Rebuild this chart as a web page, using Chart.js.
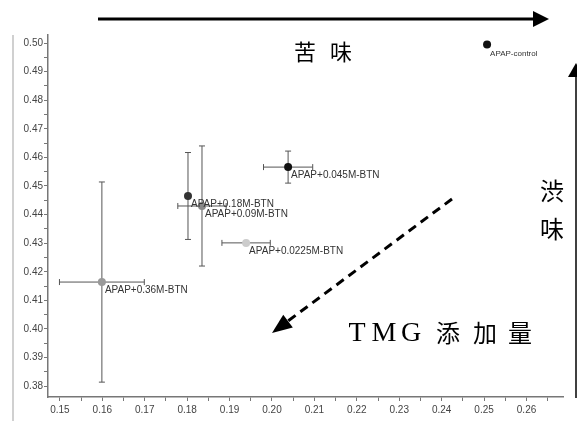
<!DOCTYPE html>
<html>
<head>
<meta charset="utf-8">
<script src="https://cdn.jsdelivr.net/npm/chart.js@4.4.0/dist/chart.umd.min.js"></script>
<style>
    html, body { margin: 0; padding: 0; background: #fff; }
    #wrap { width: 577px; height: 421px; position: relative; }
</style>
</head>
<body>
<div id="wrap"><canvas id="chart" width="577" height="421"></canvas></div>
<script>
// Data
const sampleNames = ['APAP-control', 'APAP+0.045M-BTN', 'APAP+0.18M-BTN', 'APAP+0.09M-BTN', 'APAP+0.0225M-BTN', 'APAP+0.36M-BTN'];
const xValues = [0.2507, 0.2038, 0.1802, 0.1835, 0.1939, 0.1599];
const yValues = [0.4995, 0.4566, 0.4465, 0.4430, 0.4301, 0.4164];
const xErrors = [0, 0.0058, 0, 0.0057, 0.0057, 0.0100];
const yErrors = [0, 0.0056, 0.0152, 0.0210, 0, 0.0350];
const pointColors = ['#111', '#111', '#333', '#888', '#ccc', '#999'];

const xTickLabels = [0.15, 0.16, 0.17, 0.18, 0.19, 0.20, 0.21, 0.22, 0.23, 0.24, 0.25, 0.26];
const yTickLabels = [0.38, 0.39, 0.40, 0.41, 0.42, 0.43, 0.44, 0.45, 0.46, 0.47, 0.48, 0.49, 0.50];

// major + minor (half step) ticks
function withMinor(labels, extraEnd) {
    const out = [];
    labels.forEach((v, i) => {
        out.push(v);
        if (i < labels.length - 1 || extraEnd) out.push(+(v + 0.005).toFixed(3));
    });
    return out;
}
const xTicks = withMinor(xTickLabels, true);
const yTicks = withMinor(yTickLabels, false);

function isLabel(v, labels) {
    return labels.some(l => Math.abs(l - v) < 1e-6);
}

// error bars, point labels
const errorBarPlugin = {
    id: 'errorBars',
    beforeDatasetsDraw(chart) {
        const { ctx, scales: { x, y } } = chart;
        ctx.save();
        ctx.strokeStyle = '#555';
        ctx.lineWidth = 1;
        const cap = 3;
        xValues.forEach((xv, i) => {
            const px = x.getPixelForValue(xv);
            const py = y.getPixelForValue(yValues[i]);
            if (xErrors[i] > 0) {
                const l = x.getPixelForValue(xv - xErrors[i]);
                const r = x.getPixelForValue(xv + xErrors[i]);
                ctx.beginPath();
                ctx.moveTo(l, py); ctx.lineTo(r, py);
                ctx.moveTo(l, py - cap); ctx.lineTo(l, py + cap);
                ctx.moveTo(r, py - cap); ctx.lineTo(r, py + cap);
                ctx.stroke();
            }
            if (yErrors[i] > 0) {
                const t = y.getPixelForValue(yValues[i] + yErrors[i]);
                const b = y.getPixelForValue(yValues[i] - yErrors[i]);
                ctx.beginPath();
                ctx.moveTo(px, t); ctx.lineTo(px, b);
                ctx.moveTo(px - cap, t); ctx.lineTo(px + cap, t);
                ctx.moveTo(px - cap, b); ctx.lineTo(px + cap, b);
                ctx.stroke();
            }
        });
        ctx.restore();
    },
    afterDatasetsDraw(chart) {
        const { ctx, scales: { x, y } } = chart;
        ctx.save();
        ctx.fillStyle = '#333';
        ctx.textBaseline = 'middle';
        sampleNames.forEach((name, i) => {
            const px = x.getPixelForValue(xValues[i]);
            const py = y.getPixelForValue(yValues[i]);
            ctx.font = (i === 0 ? '8px' : '10px') + ' "Liberation Sans", Arial, sans-serif';
            ctx.fillText(name, px + 3, py + (i === 0 ? 9 : 8));
        });
        ctx.restore();
    }
};

// arrows and the Japanese annotations
function arrowHead(ctx, tx, ty, angle, len, half) {
    ctx.beginPath();
    ctx.moveTo(tx, ty);
    ctx.lineTo(tx - len * Math.cos(angle) + half * Math.sin(angle), ty - len * Math.sin(angle) - half * Math.cos(angle));
    ctx.lineTo(tx - len * Math.cos(angle) - half * Math.sin(angle), ty - len * Math.sin(angle) + half * Math.cos(angle));
    ctx.closePath();
    ctx.fill();
}

const annotationPlugin = {
    id: 'annotations',
    afterDraw(chart) {
        const ctx = chart.ctx;
        ctx.save();
        // frame line at the left
        ctx.strokeStyle = '#d0d0d0';
        ctx.lineWidth = 2;
        ctx.beginPath();
        ctx.moveTo(13, 35); ctx.lineTo(13, 421);
        ctx.stroke();

        ctx.fillStyle = '#000';
        ctx.strokeStyle = '#000';

        // top arrow (bitterness)
        ctx.lineWidth = 3;
        ctx.beginPath();
        ctx.moveTo(98, 19); ctx.lineTo(535, 19);
        ctx.stroke();
        arrowHead(ctx, 549, 19, 0, 16, 8);

        // right arrow (astringency)
        ctx.lineWidth = 1.5;
        ctx.beginPath();
        ctx.moveTo(576, 398); ctx.lineTo(576, 72);
        ctx.stroke();
        arrowHead(ctx, 576, 63, -Math.PI / 2, 14, 8);

        // dashed diagonal arrow (TMG)
        ctx.lineWidth = 3;
        ctx.setLineDash([9, 6]);
        ctx.beginPath();
        ctx.moveTo(452, 199); ctx.lineTo(288, 321);
        ctx.stroke();
        ctx.setLineDash([]);
        const ang = Math.atan2(333 - 199, 272 - 452);
        arrowHead(ctx, 272, 333, ang, 20, 8);

        // texts
        ctx.textAlign = 'center';
        ctx.textBaseline = 'middle';
        ctx.font = '22px "Noto Sans CJK JP", sans-serif';
        ctx.fillText('苦', 305, 52);
        ctx.fillText('味', 341, 52);
        ctx.font = '24px "Noto Sans CJK JP", sans-serif';
        ctx.fillText('渋', 552, 191);
        ctx.fillText('味', 552, 229);

        ctx.font = '28px "Liberation Serif", "DejaVu Serif", serif';
        ctx.fillText('T', 357, 334);
        ctx.fillText('M', 384, 334);
        ctx.fillText('G', 411, 334);
        ctx.font = '24px "Noto Sans CJK JP", sans-serif';
        ctx.fillText('添', 448, 333);
        ctx.fillText('加', 485, 333);
        ctx.fillText('量', 520, 333);
        ctx.restore();
    }
};

const tickFont = { family: '"Liberation Sans", Arial, sans-serif', size: 10 };

const chart = new Chart(document.getElementById('chart'), {
    type: 'scatter',
    data: {
        datasets: [{
            data: xValues.map((xv, i) => ({ x: xv, y: yValues[i] })),
            backgroundColor: pointColors,
            borderWidth: 0,
            pointRadius: 4
        }]
    },
    options: {
        responsive: false,
        animation: false,
        layout: { padding: { left: 0, top: 35, right: 14, bottom: 0 } },
        plugins: {
            legend: { display: false },
            tooltip: { enabled: false }
        },
        scales: {
            x: {
                type: 'linear',
                min: 0.1472,
                max: 0.2686,
                afterBuildTicks: scale => { scale.ticks = xTicks.map(v => ({ value: v })); },
                afterFit: scale => { scale.height = 24; },
                ticks: {
                    autoSkip: false,
                    maxRotation: 0,
                    color: '#444',
                    font: tickFont,
                    padding: 3,
                    callback: v => isLabel(v, xTickLabels) ? v.toFixed(2) : ''
                },
                grid: { drawOnChartArea: false, tickLength: 4, color: '#777' },
                border: { color: '#777', width: 1.5 }
            },
            y: {
                type: 'linear',
                min: 0.3762,
                max: 0.5028,
                afterBuildTicks: scale => { scale.ticks = yTicks.map(v => ({ value: v })); },
                afterFit: scale => { scale.width = 48; },
                ticks: {
                    autoSkip: false,
                    color: '#444',
                    font: tickFont,
                    padding: 1,
                    callback: v => isLabel(v, yTickLabels) ? v.toFixed(2) : ''
                },
                grid: { drawOnChartArea: false, tickLength: 4, color: '#777' },
                border: { color: '#777', width: 1.5 }
            }
        }
    },
    plugins: [errorBarPlugin, annotationPlugin]
});
</script>
</body>
</html>
